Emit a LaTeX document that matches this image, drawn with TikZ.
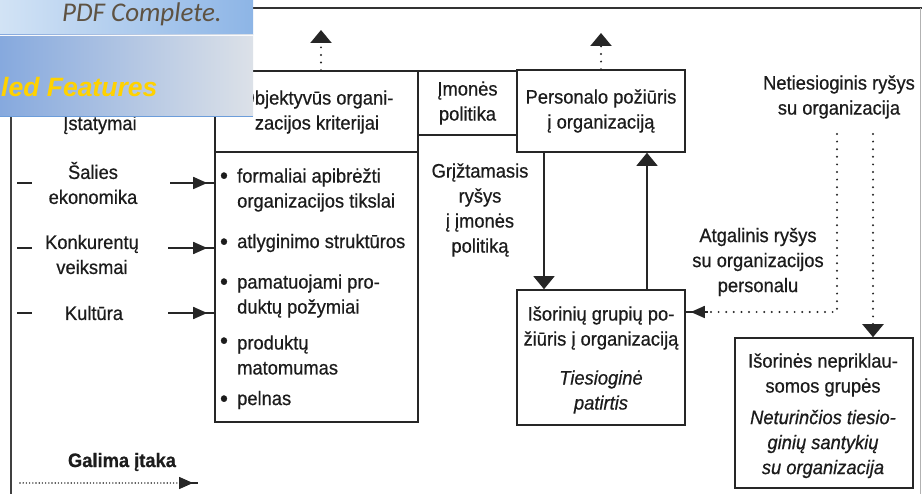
\documentclass[tikz,border=0pt]{standalone}
\usepackage{fontspec}
\setmainfont{Liberation Sans}[FakeStretch=0.94,FakeBold=0.6]
\newfontfamily\bannerfont{Carlito}
\newfontfamily\featfont{Liberation Sans}
\usetikzlibrary{arrows.meta}
\definecolor{inkc}{HTML}{1C1C1C}
\definecolor{linec}{HTML}{262626}
\definecolor{bnTopL}{HTML}{D2E3F5}
\definecolor{bnTopR}{HTML}{8DB5E6}
\definecolor{bnBotL}{HTML}{86A9DE}
\definecolor{bnBotR}{HTML}{DCE1E8}
\definecolor{bnLine}{HTML}{6C9DDA}
\definecolor{pdfText}{HTML}{5E5242}
\definecolor{featYellow}{HTML}{FFD200}
\begin{document}
\begin{tikzpicture}[x=1pt,y=-1pt,
  txt/.style={font=\fontsize{19.5}{25}\selectfont, align=center, inner sep=0pt, text=inkc},
  bul/.style={font=\fontsize{24}{25}\selectfont, inner sep=0pt, text=inkc},
  box/.style={draw=linec, line width=1.6pt, inner sep=0pt},
  solidline/.style={draw=linec, line width=1.6pt},
  bigtip/.style={-{Triangle[length=13pt,width=21pt]}},
  smalltip/.style={-{Triangle[length=14pt,width=12pt]}},
  dotline/.style={draw=linec, line width=2.2pt, line cap=round, dash pattern=on 0pt off 7.6pt},
  densedot/.style={draw=linec, line width=1.6pt, line cap=round, dash pattern=on 0pt off 3.2pt}
]
\useasboundingbox (0,0) rectangle (922,494);
\fill[white] (0,0) rectangle (922,494);

% outer frame
\draw[line width=2.4pt, draw=black!80] (240,8) -- (922,8);
\draw[line width=2pt, draw=black!75] (11,100) -- (11,500);
\draw[line width=1pt, draw=black!30] (920,8) -- (920,500);

% boxes
\node[box, minimum width=203pt, minimum height=81pt] (objh) at (316.5,111.5) {};
\node[txt] (objht) at (317,112) {Objektyvūs organi-\\zacijos kriterijai};
\node[box, minimum width=203pt, minimum height=270pt] (objl) at (316.5,287) {};
\node[box, minimum width=99pt, minimum height=64pt, txt] (imon) at (467.5,103) {Įmonės\\politika};
\node[box, minimum width=168pt, minimum height=82pt, txt] (pers) at (601,111) {Personalo požiūris\\į organizaciją};
\node[box, minimum width=168pt, minimum height=135pt] (isor) at (601,357.5) {};
\node[txt] (isort) at (601,328) {Išorinių grupių po-\\žiūris į organizaciją};
\node[txt, font=\fontsize{19.5}{25}\selectfont\itshape] (isori) at (601,392) {Tiesioginė\\patirtis};
\node[box, minimum width=178pt, minimum height=150pt] (indep) at (824,413) {};
\node[txt] (indept) at (823,375) {Išorinės nepriklau-\\somos grupės};
\node[txt, font=\fontsize{19.5}{25}\selectfont\itshape] (indepi) at (823,444) {Neturinčios tiesio-\\ginių santykių\\su organizacija};

% list
\node[bul] (b1) at (224,178) {•};
\node[txt, align=left, anchor=west] (l1) at (237,190) {formaliai apibrėžti\\organizacijos tikslai};
\node[bul] (b2) at (224,244) {•};
\node[txt, align=left, anchor=west] (l2) at (237,243) {atlyginimo struktūros};
\node[bul] (b3) at (224,284) {•};
\node[txt, align=left, anchor=west] (l3) at (237,296) {pamatuojami pro-\\duktų požymiai};
\node[bul] (b4) at (224,343) {•};
\node[txt, align=left, anchor=west] (l4) at (237,355) {produktų\\matomumas};
\node[bul] (b5) at (224,401) {•};
\node[txt, align=left, anchor=west] (l5) at (237,400) {pelnas};

% free texts
\node[txt] (grizt) at (480,210) {Grįžtamasis\\ryšys\\į įmonės\\politiką};
\node[txt] (neties) at (839,97) {Netiesioginis ryšys\\su organizacija};
\node[txt] (atgal) at (758,262) {Atgalinis ryšys\\su organizacijos\\personalu};

% left column
\node[txt] (istat) at (100,125) {Įstatymai};
\node[txt] (salies) at (93,183) {Šalies\\ekonomika};
\node[txt] (konk) at (92,254.5) {Konkurentų\\veiksmai};
\node[txt] (kult) at (94,313) {Kultūra};
\coordinate (d1a) at (17,183); \coordinate (d1b) at (32,183);
\coordinate (d2a) at (17,248); \coordinate (d2b) at (32,248);
\coordinate (d3a) at (17,313); \coordinate (d3b) at (32,313);
\draw[solidline] (d1a) -- (d1b);
\draw[solidline] (d2a) -- (d2b);
\draw[solidline] (d3a) -- (d3b);
\coordinate (a1) at (170,183);
\coordinate (a2) at (168,248);
\coordinate (a3) at (168,313);
\foreach \c in {a1,a2,a3}{
  \draw[solidline] (\c) -- (\c -| objl.west);
  \draw[solidline, smalltip, shorten >=7pt] (\c) -- (\c -| objl.west);
}

% solid vertical arrows
\draw[solidline, bigtip] ([xshift=-57pt]pers.south) -- ([xshift=-57pt]isor.north);
\draw[solidline, bigtip] ([xshift=46pt]isor.north) -- ([xshift=46pt]pers.south);

% dotted upward arrows
\coordinate (up1) at (321,30);
\coordinate (up2) at (601,33);
\draw[dotline, bigtip] ([xshift=4.5pt]objh.north) -- (up1);
\draw[dotline, bigtip] (pers.north) -- (up2);

% right dotted connectors
\coordinate (n1) at (873,134);
\draw[dotline, bigtip] (n1) -- (n1 |- indep.north);
\coordinate (n2) at (837,134);
\coordinate (c2) at (837,312);
\draw[dotline] (n2) -- (c2) -- ([xshift=22pt]c2 -| isor.east);
\draw[solidline] ([xshift=22pt]c2 -| isor.east) -- (c2 -| isor.east);
\draw[solidline, smalltip, shorten >=5pt] ([xshift=22pt]c2 -| isor.east) -- (c2 -| isor.east);

% legend
\node[txt, font=\fontsize{19.5}{25}\selectfont\bfseries] (galima) at (122,462) {Galima įtaka};
\coordinate (g1) at (20,483);
\coordinate (g2) at (198,483);
\draw[densedot] (g1) -- ([xshift=-18pt]g2);
\draw[solidline] ([xshift=-18pt]g2) -- (g2);
\draw[solidline, smalltip, shorten >=5pt] ([xshift=-18pt]g2) -- (g2);

% banner overlay
\shade[left color=bnTopL, right color=bnTopR] (0,0) rectangle (253,35);
\shade[left color=bnBotL, right color=bnBotR] (0,35) rectangle (253,117);
\draw[white!85!bnBotR, line width=1pt] (0,35.5) -- (253,35.5);
\draw[bnLine, line width=1.5pt] (0,116.5) -- (253,116.5);
\node[anchor=base east, inner sep=0pt, font=\bannerfont\itshape\fontsize{27}{27}\selectfont, text=pdfText] (pdf) at (222,22) {PDF Complete.};
\node[anchor=base west, inner sep=0pt, font=\featfont\bfseries\itshape\fontsize{26.5}{28}\selectfont, text=featYellow] (feat) at (1,97) {led Features};
\end{tikzpicture}
\end{document}
